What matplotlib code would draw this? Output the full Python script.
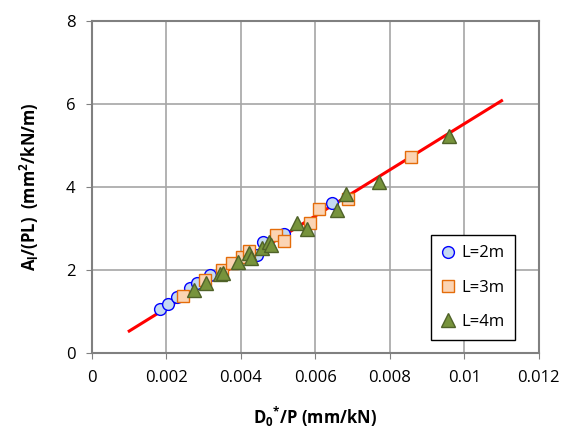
import numpy as np
import matplotlib
import matplotlib.pyplot as plt

matplotlib.rcParams['font.family'] = ['Open Sans', 'DejaVu Sans']
matplotlib.rcParams['mathtext.fontset'] = 'custom'
matplotlib.rcParams['mathtext.rm'] = 'Open Sans'
matplotlib.rcParams['mathtext.bf'] = 'Open Sans:bold'

# L = 2m
x2 = [0.00183, 0.00204, 0.00228, 0.00263, 0.00282, 0.00317, 0.00443, 0.00459, 0.00515, 0.00644]
y2 = [1.06, 1.18, 1.35, 1.57, 1.69, 1.88, 2.36, 2.67, 2.87, 3.61]
# L = 3m
x3 = [0.00244, 0.00303, 0.00349, 0.00376, 0.00403, 0.00421, 0.00494, 0.00515, 0.00585, 0.00609, 0.00687, 0.00856]
y3 = [1.37, 1.76, 2.00, 2.17, 2.31, 2.46, 2.84, 2.70, 3.13, 3.47, 3.71, 4.72]
# L = 4m
x4 = [0.00274, 0.00306, 0.00344, 0.00352, 0.00392, 0.00421, 0.00427, 0.00456, 0.00475, 0.00480,
      0.00550, 0.00577, 0.00658, 0.00682, 0.00770, 0.00958]
y4 = [1.52, 1.69, 1.90, 1.93, 2.19, 2.41, 2.29, 2.53, 2.67, 2.60,
      3.13, 2.99, 3.45, 3.83, 4.12, 5.23]
# fitted line
fit_x = [0.001, 0.011]
fit_y = [0.53, 6.08]

fig = plt.figure(figsize=(5.63, 4.30), dpi=100)
ax = fig.add_axes([0.1634, 0.179, 0.7936, 0.772])

ax.plot(fit_x, fit_y, '-', color='#FF0000', lw=2.2, zorder=2)
ax.plot(x2, y2, 'o', ms=8.5, mfc='#C5D9F1', mec='#0000FF', mew=1.0, label='L=2m', zorder=3)
ax.plot(x3, y3, 's', ms=8, mfc='#FBD4B4', mec='#E46C0A', mew=1.0, label='L=3m', zorder=4)
ax.plot(x4, y4, '^', ms=9.5, mfc='#77933C', mec='#4F6228', mew=1.0, label='L=4m', zorder=5)

ax.set_xlim(0, 0.012)
ax.set_ylim(0, 8)
ax.set_xticks([0, 0.002, 0.004, 0.006, 0.008, 0.01, 0.012])
ax.set_xticklabels(['0', '0.002', '0.004', '0.006', '0.008', '0.01', '0.012'])
ax.set_yticks([0, 2, 4, 6, 8])
ax.tick_params(labelsize=12, length=4, color='#808080', pad=8)
ax.grid(color='#A6A6A6', lw=1.2)
ax.set_axisbelow(True)
for sp in ax.spines.values():
    sp.set_color('#808080')
    sp.set_linewidth(1.5)

ax.set_xlabel(r'D$_\mathbf{0}$$^\mathbf{*}$/P (mm/kN)', fontsize=12, fontweight='bold', labelpad=14)
ax.set_ylabel(r'A$_\mathbf{l}$/(PL)  (mm$^\mathbf{2}$/kN/m)', fontsize=12, fontweight='bold', labelpad=18)

leg = ax.legend(loc='lower right', bbox_to_anchor=(0.946, 0.039), borderaxespad=0, fontsize=12,
                labelspacing=1.1, handlelength=0.8, handletextpad=0.4, borderpad=0.6,
                fancybox=False, framealpha=1)
leg.get_frame().set_edgecolor('black')

fig.savefig('out.png', dpi=100)
